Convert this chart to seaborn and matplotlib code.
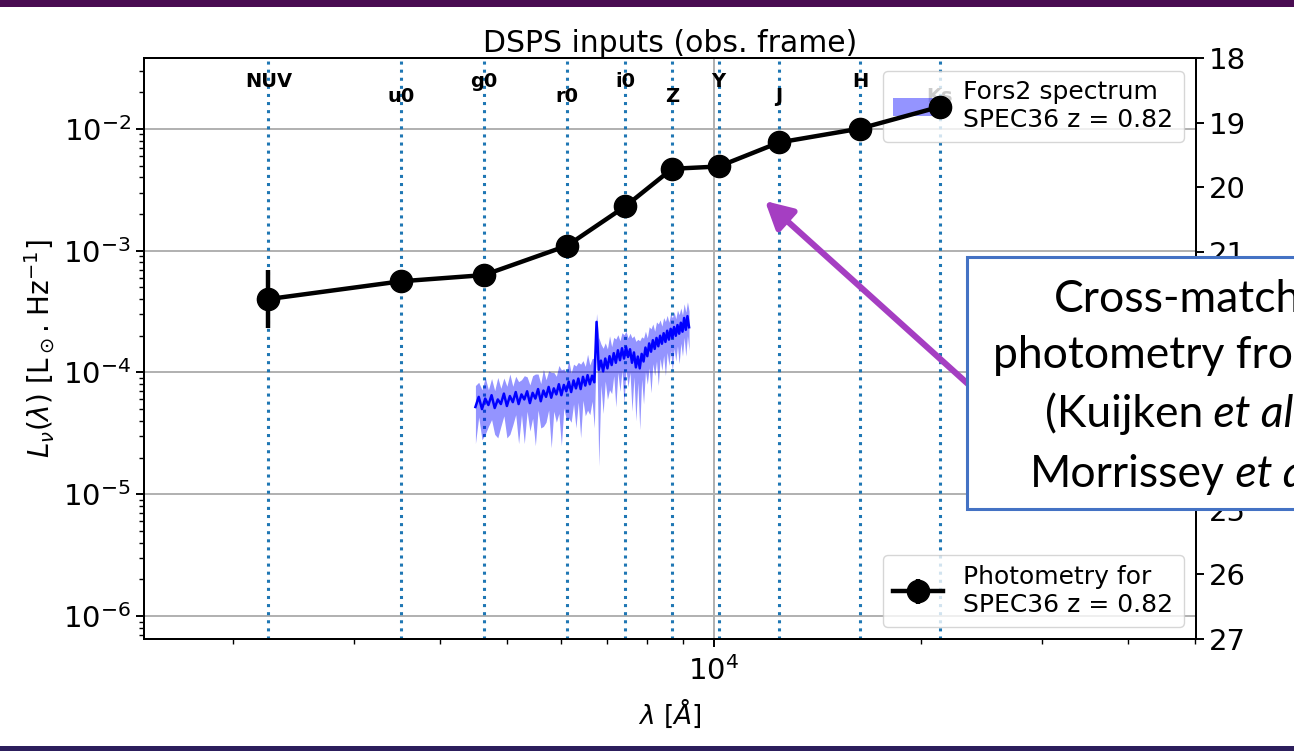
import matplotlib
matplotlib.use("Agg")
import matplotlib.pyplot as plt
import matplotlib.transforms as mtransforms
from matplotlib.patches import Rectangle, FancyArrowPatch
import numpy as np
import pandas as pd
import seaborn as sns

# ---------------- data ----------------
filters = ["NUV", "u0", "g0", "r0", "i0", "Z", "Y", "J", "H", "Ks"]
phot_wave = [2250, 3505, 4630, 6120, 7430, 8690, 10160, 12430, 16310, 21300]
phot_lnu = [4.0e-4, 5.6e-4, 6.3e-4, 1.10e-3, 2.31e-3, 4.70e-3, 4.91e-3, 7.73e-3, 1.006e-2, 1.52e-2]
phot_err_lo = [1.7e-4, 1.5e-5, 1.2e-5, 2.0e-5, 4.0e-5, 9.0e-5, 1.2e-4, 1.6e-4, 2.5e-4, 4.0e-4]
phot_err_hi = [3.0e-4, 1.5e-5, 1.2e-5, 2.0e-5, 4.0e-5, 9.0e-5, 1.2e-4, 1.6e-4, 2.5e-4, 4.0e-4]

spec_wave = [4500, 4550, 4600, 4650, 4700, 4750, 4800, 4850, 4900, 4950,
             5000, 5050, 5100, 5150, 5200, 5250, 5300, 5350, 5400, 5450,
             5500, 5550, 5600, 5650, 5700, 5750, 5800, 5850, 5900, 5950,
             6000, 6050, 6100, 6150, 6200, 6250, 6300, 6350, 6400, 6450,
             6500, 6550, 6600, 6650, 6700, 6750, 6800, 6850, 6900, 6950,
             7000, 7050, 7100, 7150, 7200, 7250, 7300, 7350, 7400, 7450,
             7500, 7550, 7600, 7650, 7700, 7750, 7800, 7850, 7900, 7950,
             8000, 8050, 8100, 8150, 8200, 8250, 8300, 8350, 8400, 8450,
             8500, 8550, 8600, 8650, 8700, 8750, 8800, 8850, 8900, 8950,
             9000, 9050, 9100, 9150, 9200]
# luminosity density in units of 1e-5 L_sun/Hz
spec_lnu = [5.2, 6.3, 5.0, 6.1, 5.4, 6.5, 5.1, 6.0, 5.5, 6.7,
            5.3, 6.4, 5.7, 6.9, 5.5, 6.6, 6.0, 7.0, 5.6, 6.8,
            6.1, 7.3, 5.8, 7.1, 6.3, 7.6, 6.2, 7.4, 6.6, 8.0,
            6.5, 7.9, 7.0, 8.4, 6.9, 8.6, 7.4, 8.9, 7.3, 9.2,
            7.8, 9.5, 8.0, 9.4, 8.3, 26.0, 10.5, 12.5, 10.2, 13.0,
            10.8, 13.6, 11.5, 14.4, 12.0, 15.2, 12.6, 15.8, 13.0, 16.2,
            13.4, 15.5, 12.0, 14.6, 11.0, 13.5, 10.8, 14.2, 12.3, 16.0,
            13.6, 17.3, 14.8, 18.4, 15.6, 19.2, 16.4, 20.0, 17.2, 21.0,
            17.8, 22.0, 18.6, 22.8, 19.2, 23.6, 20.0, 24.5, 20.8, 25.6,
            21.6, 28.0, 22.4, 29.0, 23.5]
spec_err = [2.6, 2.0, 2.2, 3.0, 1.8, 2.4, 2.0, 3.1, 1.9, 2.3,
            2.4, 3.3, 2.0, 2.4, 2.9, 2.1, 3.4, 2.2, 2.3, 2.6,
            3.6, 2.4, 2.3, 3.5, 2.4, 2.7, 3.8, 2.6, 2.7, 3.4,
            4.0, 2.8, 2.9, 4.2, 3.0, 3.1, 3.9, 3.2, 4.4, 3.3,
            3.4, 4.6, 3.5, 3.6, 4.8, 4.5, 8.8, 4.6, 5.6, 4.5,
            4.8, 6.4, 4.8, 5.0, 6.8, 5.2, 5.6, 5.4, 7.4, 5.6,
            5.8, 5.5, 7.2, 5.4, 7.0, 5.2, 7.4, 5.4, 6.8, 5.8,
            5.6, 6.4, 8.0, 6.6, 6.2, 6.8, 8.6, 7.0, 6.8, 7.2,
            8.4, 7.4, 7.2, 7.6, 8.9, 7.8, 7.6, 8.0, 9.0, 8.2,
            8.0, 8.6, 8.8, 9.0, 8.4]
spec_scale = 1e-5

mag_ticks = [18, 19, 20, 21, 22, 23, 24, 25, 26, 27]
mag_labels = ["18", "19", "20", "21", "", "", "", "25", "26", "27"]

spec = pd.DataFrame({"wave": spec_wave,
                     "lnu": np.array(spec_lnu) * spec_scale,
                     "err": np.array(spec_err) * spec_scale})
phot = pd.DataFrame({"filter": filters, "wave": phot_wave, "lnu": phot_lnu,
                     "lo": phot_err_lo, "hi": phot_err_hi})

# ---------------- figure ----------------
W, H = 1294, 751
fig = plt.figure(figsize=(W / 100, H / 100), dpi=100)
ax = fig.add_axes([144 / W, 1 - 639 / H, (1196 - 144) / W, (639 - 58) / H])

tick_fs = 21
for sp in ax.spines.values():
    sp.set_linewidth(1.4)

ax.set_xscale("log")
ax.set_yscale("log")
ax.set_xlim(1484, 50200)
ax.set_ylim(6.47e-7, 3.82e-2)
ax.grid(True, which="major", color="#b0b0b0", lw=1.4)

# filter positions
row_y = [0.976, 0.950]
trans = mtransforms.blended_transform_factory(ax.transData, ax.transAxes)
for i, (name, wl) in enumerate(zip(filters, phot_wave)):
    ax.axvline(wl, color="#1f77b4", ls=":", lw=2.2, zorder=2)
    ax.text(wl, row_y[i % 2], name, transform=trans, ha="center", va="top",
            fontsize=14, fontweight="bold", zorder=3)

# spectrum
fill = ax.fill_between(spec["wave"], spec["lnu"] - spec["err"], spec["lnu"] + spec["err"],
                       color="b", alpha=0.42, lw=0, zorder=2.5,
                       label="Fors2 spectrum\nSPEC36 z = 0.82")
sns.lineplot(data=spec, x="wave", y="lnu", color="b", lw=1.8, ax=ax, zorder=2.6,
             legend=False)

# photometry
eb = ax.errorbar(phot["wave"], phot["lnu"], yerr=[phot["lo"], phot["hi"]], fmt="o-",
                 color="k", ms=16, lw=3.2, elinewidth=3.2, zorder=8,
                 label="Photometry for\nSPEC36 z = 0.82")

leg_kw = dict(fontsize=18, handlelength=2.0, borderaxespad=0.5)
leg1 = ax.legend(handles=[fill], loc="upper right", **leg_kw)
ax.add_artist(leg1)
ax.legend(handles=[eb], loc="lower right", **leg_kw)

ax.set_title("DSPS inputs (obs. frame)", fontsize=21.5, pad=3)
ax.set_xlabel(r"$\lambda$ [$\AA$]", fontsize=19, labelpad=8)
ax.set_ylabel(r"$L_\nu(\lambda)$ [L$_\odot$. Hz$^{-1}$]", fontsize=20, labelpad=4)
ax.tick_params(which="major", length=6, width=1.4, labelsize=tick_fs)
ax.tick_params(which="minor", length=3.5, width=1.0)
ax.tick_params(axis="x", which="major", pad=6)

# magnitude scale on the right
ax2 = ax.twinx()
ax2.set_ylim(27, 18)
ax2.set_yticks(mag_ticks)
ax2.set_yticklabels(mag_labels)
ax2.tick_params(length=6, width=1.4, labelsize=tick_fs)
for sp in ax2.spines.values():
    sp.set_linewidth(1.4)


# ---------------- slide decorations ----------------
def fx(px):
    return px / W


def fy(py):
    return 1 - py / H


fig.add_artist(Rectangle((0, fy(7)), 1, 7 / H, transform=fig.transFigure,
                         color="#4a0c52", lw=0, zorder=20))
fig.add_artist(Rectangle((0, 0), 1, 5 / H, transform=fig.transFigure,
                         color="#2c1e5c", lw=0, zorder=20))

arrow = FancyArrowPatch((fx(968), fy(384)), (fx(765), fy(201)),
                        transform=fig.transFigure,
                        arrowstyle="-|>,head_length=1.35,head_width=0.72",
                        mutation_scale=12, lw=4.4, color="#a53ec2",
                        shrinkA=0, shrinkB=0, capstyle="round", zorder=21)
fig.add_artist(arrow)

fig.add_artist(Rectangle((fx(967), fy(509)), fx(1320) - fx(967), (509 - 257) / H,
                         transform=fig.transFigure, facecolor="white",
                         edgecolor="#4472c4", lw=2.2, zorder=22))

box_fs = 32
box_font = "Lato"
fig.text(fx(1054), fy(312), "Cross-match", fontsize=box_fs, family=box_font,
         va="baseline", ha="left", zorder=23)
fig.text(fx(993), fy(368), "photometry fro", fontsize=box_fs, family=box_font,
         va="baseline", ha="left", zorder=23)
t3 = fig.text(fx(1045), fy(427), "(Kuijken", fontsize=box_fs, family=box_font,
              va="baseline", ha="left", zorder=23)
t4 = fig.text(fx(1030), fy(487), "Morrissey", fontsize=box_fs, family=box_font,
              va="baseline", ha="left", zorder=23)

# italic parts follow their roman parts on the same baseline
fig.canvas.draw()
renderer = fig.canvas.get_renderer()
for base, tail in ((t3, " et al"), (t4, " et a")):
    bb = base.get_window_extent(renderer)
    x_end = bb.x1 / fig.bbox.width
    fig.text(x_end, base.get_position()[1], tail, fontsize=box_fs, family=box_font,
             style="italic", va="baseline", ha="left", zorder=23)

fig.savefig("out.png", dpi=100)
